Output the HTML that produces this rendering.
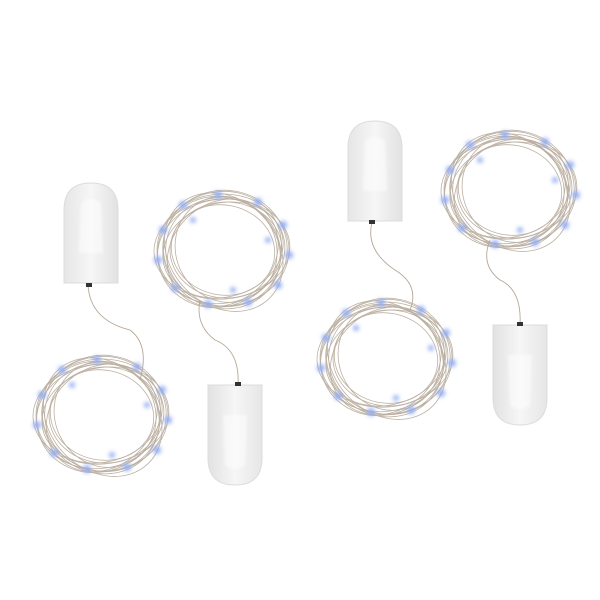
<!DOCTYPE html>
<html><head><meta charset="utf-8"><style>
html,body{margin:0;padding:0;background:#fff;width:600px;height:600px;overflow:hidden}
</style></head><body>
<svg width="600" height="600" viewBox="0 0 600 600" xmlns="http://www.w3.org/2000/svg">
<defs>
<filter id="b" x="-80%" y="-80%" width="260%" height="260%"><feGaussianBlur stdDeviation="2.2"/></filter>
<filter id="s" x="-20%" y="-20%" width="140%" height="140%"><feGaussianBlur stdDeviation="1.2"/></filter>
<linearGradient id="bg" x1="0" x2="1"><stop offset="0" stop-color="#e6e6e6"/><stop offset="0.5" stop-color="#f6f6f6"/><stop offset="1" stop-color="#e2e2e2"/></linearGradient>
<g id="coil" fill="none" stroke="#b5a898" stroke-width="0.8" opacity="0.9">
<ellipse cx="0" cy="0" rx="66" ry="56"/>
<ellipse cx="2" cy="-2" rx="62" ry="58" transform="rotate(8)"/>
<ellipse cx="-2" cy="1" rx="64" ry="52" transform="rotate(-10)"/>
<ellipse cx="1" cy="2" rx="58" ry="54" transform="rotate(20)"/>
<ellipse cx="-1" cy="-1" rx="68" ry="50" transform="rotate(-4)"/>
<ellipse cx="3" cy="0" rx="56" ry="48"/>
<ellipse cx="0" cy="3" rx="60" ry="55" transform="rotate(30)"/>
<ellipse cx="-3" cy="-2" rx="63" ry="57" transform="rotate(-25)"/>
<ellipse cx="0" cy="0" rx="52" ry="45" transform="rotate(12)"/>
<ellipse cx="2" cy="1" rx="65" ry="53" transform="rotate(45)"/>
<ellipse cx="-2" cy="2" rx="59" ry="50" transform="rotate(-40)"/>
<ellipse cx="1" cy="-3" rx="54" ry="50" transform="rotate(60)"/>
<ellipse cx="0" cy="0" rx="61" ry="47" transform="rotate(-15)"/>
<g stroke="none" fill="#8aa6f0" filter="url(#b)">
<circle cx="-60" cy="-20" r="4"/><circle cx="-40" cy="-45" r="4"/><circle cx="-5" cy="-55" r="4"/>
<circle cx="35" cy="-48" r="4"/><circle cx="60" cy="-25" r="4"/><circle cx="66" cy="5" r="4"/>
<circle cx="55" cy="35" r="4"/><circle cx="25" cy="52" r="4"/><circle cx="-15" cy="54" r="4"/>
<circle cx="-48" cy="38" r="4"/><circle cx="-65" cy="10" r="4"/><circle cx="-30" cy="-30" r="3"/>
<circle cx="45" cy="-10" r="3"/><circle cx="10" cy="40" r="3"/>
</g>
</g>
<g id="bat">
<path d="M-27,50 L-27,-23 Q-27,-50 0,-50 Q27,-50 27,-23 L27,50 Z" fill="url(#bg)" stroke="#dcdcdc" stroke-width="1"/>
<path d="M-10,-30 Q0,-38 10,-30 L12,20 L-12,20 Z" fill="#ffffff" opacity="0.5" filter="url(#s)"/>
</g>
</defs>
<path d="M88,285 Q90,320 130,330 Q150,345 140,380" fill="none" stroke="#b5a898" stroke-width="0.9"/>
<use href="#bat" transform="translate(91,233)"/>
<rect x="86" y="283" width="6" height="4" fill="#333"/>
<use href="#coil" transform="translate(102,415)"/>
<path d="M238,385 Q240,350 215,340 Q195,325 200,300" fill="none" stroke="#b5a898" stroke-width="0.9"/>
<use href="#coil" transform="translate(223,250)"/>
<use href="#bat" transform="translate(235,435) rotate(180)"/>
<rect x="235" y="382" width="6" height="4" fill="#333"/>
<path d="M372,222 Q365,250 395,270 Q420,285 410,310" fill="none" stroke="#b5a898" stroke-width="0.9"/>
<use href="#bat" transform="translate(375,171)"/>
<rect x="369" y="220" width="6" height="4" fill="#333"/>
<use href="#coil" transform="translate(386,358)"/>
<path d="M520,325 Q522,290 500,280 Q480,265 490,240" fill="none" stroke="#b5a898" stroke-width="0.9"/>
<use href="#coil" transform="translate(510,190)"/>
<use href="#bat" transform="translate(520,375) rotate(180)"/>
<rect x="517" y="322" width="6" height="4" fill="#333"/>
</svg>
</body></html>
